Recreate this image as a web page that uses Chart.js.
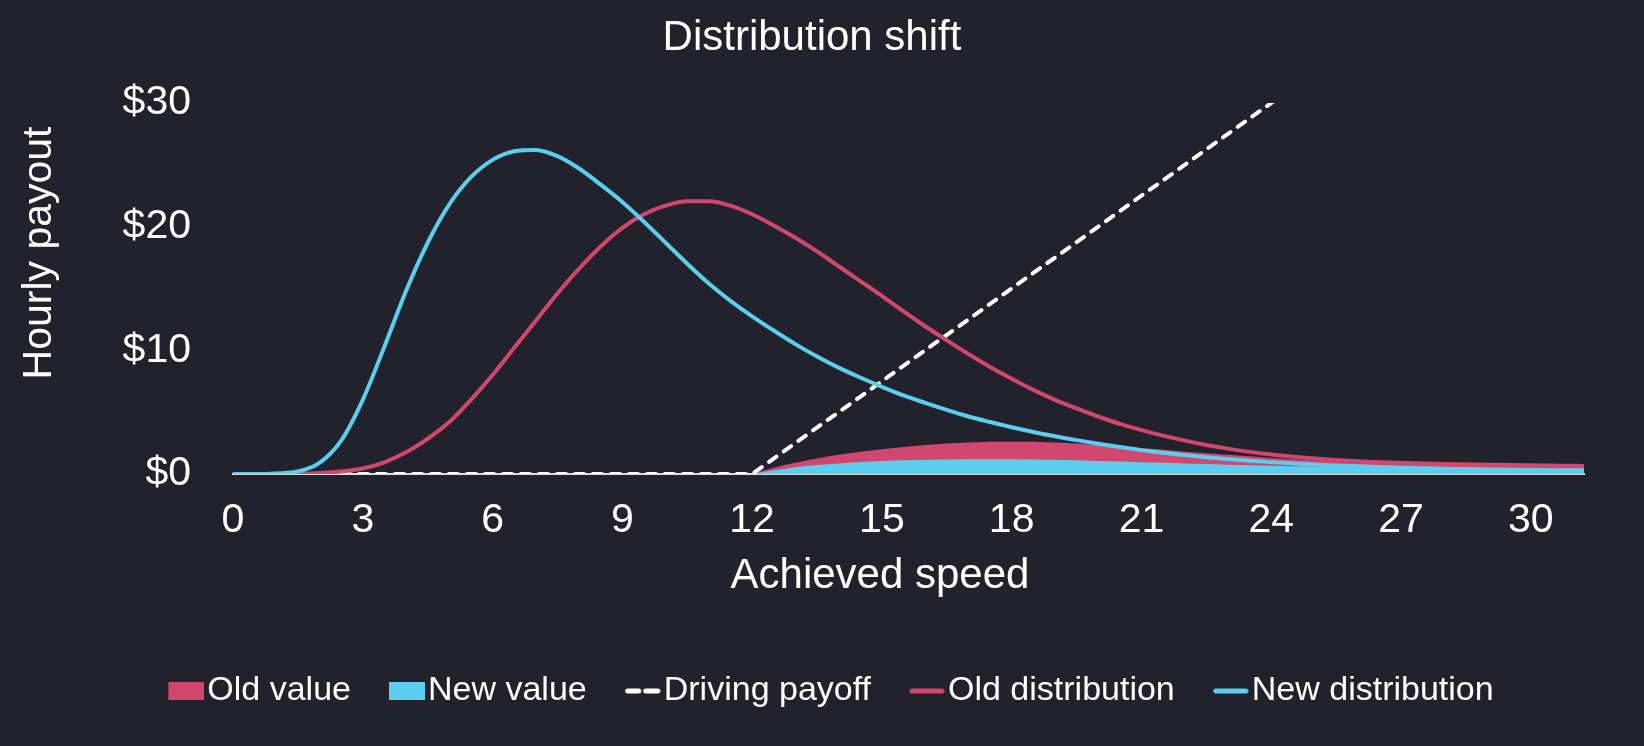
<!DOCTYPE html>
<html>
<head>
<meta charset="utf-8">
<title>Distribution shift</title>
<script src="https://cdn.jsdelivr.net/npm/chart.js@4.4.1/dist/chart.umd.min.js"></script>
<style>
  html, body { margin: 0; padding: 0; background: #22222c; }
  #chart { display: block; }
</style>
</head>
<body>
<canvas id="chart" width="1644" height="746"></canvas>
<script>
// x positions of the distribution curves (achieved speed)
var speedFine = [0, 0.5, 1, 1.5, 2, 2.5, 3, 3.5, 4, 4.5, 5, 5.5, 6, 6.5, 7, 7.5,
  8, 8.5, 9, 9.5, 10, 10.5, 11, 11.5, 12, 12.5, 13, 13.5, 14, 14.5, 15, 15.5,
  16, 16.5, 17, 17.5, 18, 18.5, 19, 19.5, 20, 20.5, 21, 21.5, 22, 22.5, 23, 23.5,
  24, 24.5, 25, 25.5, 26, 26.5, 27, 27.5, 28, 28.5, 29, 29.5, 30, 30.5, 31, 31.5];

var oldDist = [0, 0, 0, 0.02, 0.08, 0.2, 0.45, 0.95, 1.75, 2.85, 4.2, 6.0, 8.0, 10.2, 12.4, 14.6,
  16.6, 18.4, 19.9, 21.0, 21.7, 22.05, 22.05, 21.7, 21.0, 20.1, 19.1, 18.0, 16.8, 15.6, 14.4, 13.15,
  11.95, 10.8, 9.7, 8.65, 7.7, 6.8, 6.0, 5.3, 4.65, 4.05, 3.55, 3.1, 2.7, 2.35, 2.05, 1.79,
  1.57, 1.4, 1.26, 1.14, 1.04, 0.96, 0.9, 0.85, 0.81, 0.78, 0.75, 0.72, 0.7, 0.68, 0.66, 0.64];

var newDist = [0, 0, 0.05, 0.2, 0.9, 2.7, 6.0, 10.3, 14.8, 18.7, 21.8, 24.0, 25.4, 26.1, 26.2, 25.7,
  24.7, 23.4, 22.0, 20.4, 18.7, 17.0, 15.4, 14.0, 12.75, 11.6, 10.5, 9.5, 8.6, 7.8, 7.05, 6.35,
  5.75, 5.18, 4.65, 4.2, 3.78, 3.4, 3.05, 2.74, 2.45, 2.18, 1.93, 1.72, 1.53, 1.36, 1.21, 1.08,
  0.96, 0.86, 0.77, 0.69, 0.62, 0.56, 0.51, 0.47, 0.43, 0.4, 0.37, 0.35, 0.33, 0.31, 0.3, 0.29];

// x positions of the value areas
var speedValue = [12, 12.5, 13, 13.5, 14, 15, 16, 17, 18, 19, 20, 21, 22, 23, 24, 25, 26, 27, 28, 29, 30, 31, 32];
var oldValue = [0, 0.5, 0.9, 1.25, 1.55, 2.0, 2.35, 2.55, 2.6, 2.55, 2.35, 2.1, 1.8, 1.55, 1.3, 1.1, 0.95, 0.82, 0.72, 0.64, 0.58, 0.54, 0.5];
var newValue = [0, 0.3, 0.55, 0.72, 0.85, 1.05, 1.15, 1.2, 1.2, 1.15, 1.05, 0.95, 0.85, 0.75, 0.66, 0.6, 0.54, 0.49, 0.45, 0.42, 0.4, 0.38, 0.36];

// driving payoff: flat until 12, then linear
var speedPayoff = [0, 12, 32];
var payoff = [0, 0, 50];

var speedTicks = [0, 3, 6, 9, 12, 15, 18, 21, 24, 27, 30];
var payoutTicks = [0, 10, 20, 30];

var PINK = "#d1476f";
var CYAN = "#5ccfee";
var FONT = "'Liberation Sans', Arial, sans-serif";

Chart.defaults.font.family = FONT;
Chart.defaults.color = "#ffffff";

function toPoints(xs, ys) {
  return xs.map(function (x, i) { return { x: x, y: ys[i] }; });
}

// legend swatches drawn into small canvases, visible part on the right side
function makeSwatch(kind, color) {
  var c = document.createElement("canvas");
  c.width = 68;
  c.height = 20;
  var g = c.getContext("2d");
  var x0 = 32;
  if (kind === "box") {
    g.fillStyle = color;
    g.fillRect(x0, 1, 36, 18);
  } else {
    g.strokeStyle = color;
    g.lineWidth = 5;
    g.lineCap = "round";
    g.beginPath();
    if (kind === "line") {
      g.moveTo(x0 + 3, 10);
      g.lineTo(x0 + 33, 10);
    } else {
      g.moveTo(x0 + 3, 10);
      g.lineTo(x0 + 14, 10);
      g.moveTo(x0 + 21, 10);
      g.lineTo(x0 + 33, 10);
    }
    g.stroke();
  }
  return c;
}

var swatches = [
  makeSwatch("box", PINK),
  makeSwatch("box", CYAN),
  makeSwatch("dash", "#ffffff"),
  makeSwatch("line", PINK),
  makeSwatch("line", CYAN)
];

// chart title and axis titles, placed where the reference has them
var textPlugin = {
  id: "jwTexts",
  afterDraw: function (chart) {
    var c = chart.ctx;
    c.save();
    c.fillStyle = "#ffffff";
    c.textAlign = "center";
    c.textBaseline = "middle";
    c.font = "42px " + FONT;
    c.fillText("Distribution shift", chart.width / 2 - 10, 38);
    c.fillText("Achieved speed", 880, 576);
    c.font = "41px " + FONT;
    c.translate(40, 253);
    c.rotate(-Math.PI / 2);
    c.fillText("Hourly payout", 0, 0);
    c.restore();
  }
};

var ctx = document.getElementById("chart").getContext("2d");

new Chart(ctx, {
  type: "line",
  data: {
    datasets: [
      {
        label: "Old value",
        data: toPoints(speedValue, oldValue),
        backgroundColor: PINK,
        borderColor: "transparent",
        borderWidth: 0,
        fill: "origin",
        cubicInterpolationMode: "monotone",
        order: 4
      },
      {
        label: "New value",
        data: toPoints(speedValue, newValue),
        backgroundColor: CYAN,
        borderColor: "transparent",
        borderWidth: 0,
        fill: "origin",
        cubicInterpolationMode: "monotone",
        order: 3
      },
      {
        label: "Driving payoff",
        data: toPoints(speedPayoff, payoff),
        borderColor: "#ffffff",
        borderWidth: 4,
        borderDash: [9, 9],
        borderCapStyle: "round",
        fill: false,
        tension: 0,
        order: 2
      },
      {
        label: "Old distribution",
        data: toPoints(speedFine, oldDist),
        borderColor: PINK,
        borderWidth: 4,
        fill: false,
        cubicInterpolationMode: "monotone",
        order: 1
      },
      {
        label: "New distribution",
        data: toPoints(speedFine, newDist),
        borderColor: CYAN,
        borderWidth: 4,
        fill: false,
        cubicInterpolationMode: "monotone",
        order: 0
      }
    ]
  },
  plugins: [textPlugin],
  options: {
    responsive: false,
    animation: false,
    events: [],
    elements: { point: { radius: 0 } },
    layout: { padding: { left: 0, right: 0, top: 103, bottom: 28 } },
    plugins: {
      title: { display: false },
      legend: {
        position: "bottom",
        labels: {
          color: "#ffffff",
          font: { size: 34 },
          usePointStyle: true,
          pointStyleWidth: 40,
          padding: 20,
          sort: function (a, b) { return a.datasetIndex - b.datasetIndex; },
          generateLabels: function (chart) {
            return chart.data.datasets.map(function (ds, i) {
              return {
                text: ds.label,
                datasetIndex: i,
                hidden: false,
                pointStyle: swatches[i],
                fillStyle: "transparent",
                strokeStyle: "transparent",
                lineWidth: 0,
                fontColor: "#ffffff"
              };
            });
          }
        }
      },
      tooltip: { enabled: false }
    },
    scales: {
      x: {
        type: "linear",
        min: 0,
        max: 31.23,
        grid: { display: false, drawTicks: false },
        border: { display: true, color: "#dcdcdc", width: 2 },
        afterBuildTicks: function (scale) {
          scale.ticks = speedTicks.map(function (v) { return { value: v }; });
        },
        afterFit: function (scale) { scale.height = 180; },
        ticks: {
          color: "#ffffff",
          font: { size: 41 },
          padding: 22,
          maxRotation: 0,
          autoSkip: false,
          callback: function (v) { return String(v); }
        }
      },
      y: {
        type: "linear",
        min: 0,
        max: 30,
        grid: { display: false, drawTicks: false },
        border: { display: false },
        afterBuildTicks: function (scale) {
          scale.ticks = payoutTicks.map(function (v) { return { value: v }; });
        },
        afterFit: function (scale) { scale.width = 233; },
        ticks: {
          color: "#ffffff",
          font: { size: 41 },
          padding: 42,
          callback: function (v) { return "$" + v; }
        }
      },
      yRight: {
        type: "linear",
        position: "right",
        display: true,
        grid: { display: false, drawTicks: false },
        border: { display: false },
        ticks: { display: false },
        afterFit: function (scale) { scale.width = 60; }
      }
    }
  }
});
</script>
</body>
</html>
